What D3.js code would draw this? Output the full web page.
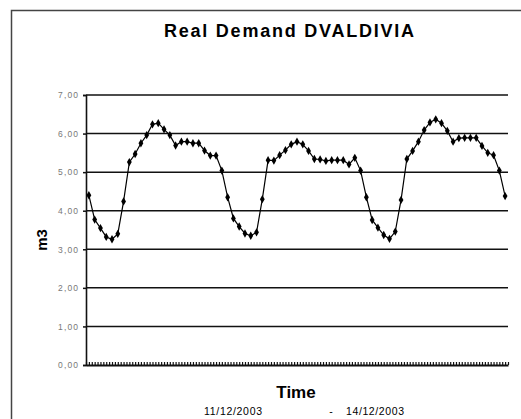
<!DOCTYPE html>
<html>
<head>
<meta charset="utf-8">
<script src="https://cdn.jsdelivr.net/npm/d3@7"></script>
<style>
  body { margin: 0; background: #fff; }
  text { font-family: Arial, "Liberation Sans", sans-serif; }
</style>
</head>
<body>
<svg id="chart" width="521" height="419"></svg>
<script>
// hourly demand, 11/12/2003 - 14/12/2003
var hours = d3.range(0, 73)
var demand = [4.40, 3.77, 3.55, 3.32, 3.26, 3.40, 4.24, 5.26, 5.47, 5.75, 5.96, 6.24, 6.27,
  6.11, 5.96, 5.69, 5.79, 5.79, 5.75, 5.75, 5.56, 5.43, 5.43, 5.04, 4.35, 3.80, 3.59,
  3.41, 3.35, 3.44, 4.30, 5.31, 5.30, 5.44, 5.57, 5.72, 5.79, 5.72, 5.55, 5.34, 5.33,
  5.29, 5.31, 5.31, 5.31, 5.20, 5.37, 5.04, 4.35, 3.76, 3.56, 3.37, 3.27, 3.46, 4.28,
  5.34, 5.55, 5.79, 6.09, 6.29, 6.37, 6.27, 6.07, 5.79, 5.88, 5.89, 5.89, 5.89, 5.68,
  5.50, 5.44, 5.04, 4.38]
var yTicks = [0, 1, 2, 3, 4, 5, 6, 7]
var dateLabels = ["11/12/2003", "-", "14/12/2003"]

var svg = d3.select("#chart")
var plotLeft = 86, plotRight = 508, plotTop = 95, plotBottom = 365

// chart frame
svg.append("rect")
  .attr("x", 11.5).attr("y", 10.5)
  .attr("width", 530).attr("height", 430)
  .attr("fill", "none").attr("stroke", "#444").attr("stroke-width", 1.5)

var x = d3.scaleBand().domain(hours).range([plotLeft, plotRight])
var xLin = d3.scaleLinear().domain([0, hours.length]).range([plotLeft, plotRight])
var y = d3.scaleLinear().domain([0, 7]).range([plotBottom, plotTop])

// gridlines
svg.append("g").selectAll("line")
  .data(yTicks.filter(function(d){ return d > 0 }))
  .enter().append("line")
  .attr("x1", plotLeft).attr("x2", plotRight)
  .attr("y1", function(d){ return y(d) }).attr("y2", function(d){ return y(d) })
  .attr("stroke", "#111").attr("stroke-width", 1.5)

// y axis
var yAxis = svg.append("g")
  .attr("transform", "translate(" + plotLeft + ",0)")
  .call(d3.axisLeft(y).tickValues(yTicks).tickSize(3)
    .tickFormat(function(d){ return d3.format(".2f")(d).replace(".", ",") }))
yAxis.select(".domain").attr("stroke", "#111").attr("stroke-width", 1.6)
yAxis.selectAll(".tick line").attr("stroke", "#111").attr("stroke-width", 1.5)
yAxis.selectAll(".tick text")
  .attr("x", -8)
  .attr("fill", "#777")
  .style("font-size", "8.5px")
  .attr("textLength", 20).attr("lengthAdjust", "spacing")

// x axis with fine ticks
var xAxis = svg.append("g")
  .attr("transform", "translate(0," + plotBottom + ")")
  .call(d3.axisBottom(xLin).tickValues(d3.range(0, hours.length + 0.01, 0.5))
    .tickSize(-3).tickSizeOuter(0).tickFormat(""))
xAxis.select(".domain").attr("stroke", "#111").attr("stroke-width", 1.8)
xAxis.selectAll(".tick line").attr("stroke", "#111").attr("stroke-width", 1.2)

// demand line
var line = d3.line()
  .x(function(d, i){ return x(hours[i]) + x.bandwidth() / 2 })
  .y(function(d){ return y(d) })

svg.append("path")
  .datum(demand)
  .attr("d", line)
  .attr("fill", "none")
  .attr("stroke", "#000")
  .attr("stroke-width", 1.2)

svg.append("g").selectAll("path")
  .data(demand)
  .enter().append("path")
  .attr("d", d3.symbol().type(d3.symbolDiamond).size(20))
  .attr("transform", function(d, i){
    return "translate(" + (x(hours[i]) + x.bandwidth() / 2) + "," + y(d) + ")"
  })
  .attr("fill", "#000")

// title and labels
svg.append("text")
  .attr("x", 289).attr("y", 37)
  .attr("text-anchor", "middle")
  .style("font-size", "18px").style("font-weight", "bold")
  .attr("textLength", 250).attr("lengthAdjust", "spacing")
  .text("Real Demand DVALDIVIA")

svg.append("text")
  .attr("transform", "translate(47,240) rotate(-90)")
  .attr("text-anchor", "middle")
  .style("font-size", "15px").style("font-weight", "bold")
  .text("m3")

svg.append("text")
  .attr("x", 296).attr("y", 398)
  .attr("text-anchor", "middle")
  .style("font-size", "17px").style("font-weight", "bold")
  .text("Time")

var datePos = [233, 331, 375]
svg.append("g").selectAll("text")
  .data(dateLabels)
  .enter().append("text")
  .attr("x", function(d, i){ return datePos[i] })
  .attr("y", 415)
  .attr("text-anchor", "middle")
  .style("font-size", "10.5px")
  .attr("textLength", function(d){ return d.length > 1 ? 58 : null })
  .attr("lengthAdjust", "spacing")
  .text(function(d){ return d })
</script>
</body>
</html>
